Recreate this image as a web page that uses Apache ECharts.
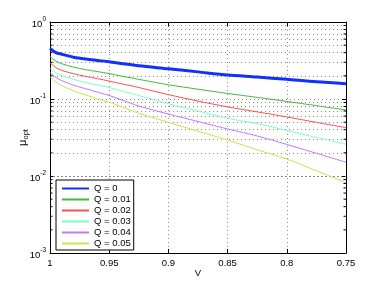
<!DOCTYPE html>
<html><head><meta charset="utf-8">
<script src="https://cdn.jsdelivr.net/npm/echarts@6/dist/echarts.min.js"></script>
<style>html,body{margin:0;padding:0;background:#fff}#c{width:382px;height:287px}</style>
</head><body><div id="c"></div>
<script>
// V values (x axis, reversed)
const V = [1, 0.995, 0.99, 0.98, 0.97, 0.96, 0.95, 0.94, 0.925, 0.9, 0.875, 0.85, 0.825, 0.8, 0.775, 0.75];
// mu_opt for each Q
const muQ000 = [0.455, 0.40, 0.382, 0.349, 0.330, 0.317, 0.305, 0.290, 0.270, 0.247, 0.225, 0.205, 0.193, 0.180, 0.167, 0.158];
const muQ001 = [0.355, 0.310, 0.287, 0.259, 0.241, 0.227, 0.214, 0.199, 0.180, 0.153, 0.134, 0.118, 0.105, 0.093, 0.082, 0.072];
const muQ002 = [0.296, 0.256, 0.235, 0.213, 0.197, 0.184, 0.171, 0.158, 0.141, 0.114, 0.094, 0.079, 0.068, 0.0585, 0.0497, 0.0425];
const muQ003 = [0.250, 0.219, 0.201, 0.180, 0.164, 0.152, 0.141, 0.128, 0.111, 0.0867, 0.0698, 0.0562, 0.0479, 0.0390, 0.0316, 0.0258];
const muQ004 = [0.220, 0.190, 0.173, 0.151, 0.136, 0.123, 0.111, 0.098, 0.081, 0.0638, 0.0510, 0.0408, 0.0331, 0.0257, 0.0197, 0.0151];
const muQ005 = [0.195, 0.166, 0.149, 0.128, 0.113, 0.101, 0.091, 0.0798, 0.0653, 0.0497, 0.0382, 0.0293, 0.0219, 0.0166, 0.0117, 0.0082];
const seriesNames = ['Q = 0', 'Q = 0.01', 'Q = 0.02', 'Q = 0.03', 'Q = 0.04', 'Q = 0.05'];
const seriesValues = [muQ000, muQ001, muQ002, muQ003, muQ004, muQ005];
const colors = ['#1030ff', '#45b83a', '#ff4d4d', '#7dffc4', '#bf78ff', '#cfe04a'];
const widths = [3, 1, 1, 1, 1, 1];
// minor log grid values 2..9 x 10^k
const minorVals = [];
for (let k = -3; k < 0; k++) for (let m = 2; m <= 9; m++) minorVals.push(+(m * Math.pow(10, k)).toPrecision(3));

const FONT = 'Liberation Sans';
const gridLine = {show: true, lineStyle: {color: '#8a8a8a', width: 1, type: [1, 3]}};
const chart = echarts.init(document.getElementById('c'), null, {renderer: 'canvas'});
const lineSeries = seriesNames.map((n, i) => ({
  name: n, type: 'line', xAxisIndex: 0, yAxisIndex: 0,
  data: V.map((v, j) => [v, seriesValues[i][j]]),
  symbol: 'none', smooth: 0.3, z: 5,
  lineStyle: {color: colors[i], width: widths[i]}, itemStyle: {color: colors[i]}
}));
chart.setOption({
  animation: false,
  backgroundColor: '#fff',
  grid: {left: 50, right: 36, top: 22, bottom: 34, outerBoundsMode: 'none'},
  legend: {
    left: 56, top: 180, orient: 'vertical', itemWidth: 27, itemHeight: 8, itemGap: 0,
    padding: [3, 3, 1, 5], borderColor: '#000', borderWidth: 1, backgroundColor: '#fff',
    textStyle: {fontFamily: FONT, fontSize: 9.5, lineHeight: 11, color: '#000'},
    itemStyle: {opacity: 0},
    data: seriesNames, z: 10
  },
  xAxis: [{
    type: 'value', min: 0.75, max: 1, interval: 0.05, inverse: true, position: 'bottom',
    name: 'V', nameLocation: 'middle', nameGap: 15, nameMoveOverlap: false,
    nameTextStyle: {fontFamily: FONT, fontSize: 9.5, color: '#000'},
    axisLine: {show: true, lineStyle: {color: '#000', width: 1}},
    axisTick: {show: true, inside: true, length: 4, lineStyle: {color: '#000'}},
    axisLabel: {margin: 5, fontFamily: FONT, fontSize: 9.5, color: '#000',
      formatter: v => String(parseFloat(v.toFixed(2)))},
    splitLine: gridLine
  }, {
    type: 'value', min: 0.75, max: 1, interval: 0.05, inverse: true, position: 'top',
    axisLine: {show: true, lineStyle: {color: '#000', width: 1}},
    axisTick: {show: true, inside: true, length: 4, lineStyle: {color: '#000'}},
    axisLabel: {show: false}, splitLine: {show: false}
  }],
  yAxis: [{
    type: 'log', logBase: 10, min: 0.001, max: 1, position: 'left',
    name: '{m|μ}{s|opt}', nameLocation: 'middle', nameGap: 20, nameRotate: 90, nameMoveOverlap: false,
    nameTextStyle: {fontFamily: FONT, color: '#000', rich: {
      m: {fontFamily: FONT, fontSize: 11, color: '#000'},
      s: {fontFamily: FONT, fontSize: 7.5, color: '#000', padding: [6, 0, 0, 0]}
    }},
    axisLine: {show: true, lineStyle: {color: '#000', width: 1}},
    axisTick: {show: true, inside: true, length: 4, lineStyle: {color: '#000'}},
    axisLabel: {margin: 4, color: '#000',
      formatter: v => '{b|10}{s|' + Math.round(Math.log10(v)) + '}',
      rich: {
        b: {fontFamily: FONT, fontSize: 9.5, color: '#000', padding: [4, 0, 0, 0]},
        s: {fontFamily: FONT, fontSize: 6.5, color: '#000', padding: [0, 0, 5, 0]}
      }},
    splitLine: gridLine
  }, {
    type: 'log', logBase: 10, min: 0.001, max: 1, position: 'right',
    axisLine: {show: true, lineStyle: {color: '#000', width: 1}},
    axisTick: {show: true, inside: true, length: 4, lineStyle: {color: '#000'}},
    axisLabel: {show: false}, splitLine: {show: false}
  }],
  series: [{
    type: 'line', name: 'minorGrid', data: [], silent: true, z: 1,
    markLine: {silent: true, symbol: 'none', label: {show: false},
      lineStyle: {color: '#8a8a8a', width: 1, type: [1, 3]},
      data: minorVals.map(v => ({yAxis: v}))}
  }, {
    type: 'custom', name: 'minorTicks', silent: true, z: 6,
    data: minorVals.map(v => [1, v]),
    renderItem: (params, api) => {
      const y = api.value(1);
      const pL = api.coord([1, y]);
      const pR = api.coord([0.75, y]);
      return {type: 'group', children: [
        {type: 'line', shape: {x1: pL[0], y1: pL[1], x2: pL[0] + 2.5, y2: pL[1]}, style: {stroke: '#000', lineWidth: 1}},
        {type: 'line', shape: {x1: pR[0], y1: pR[1], x2: pR[0] - 2.5, y2: pR[1]}, style: {stroke: '#000', lineWidth: 1}}
      ]};
    }
  }].concat(lineSeries)
});
</script></body></html>
